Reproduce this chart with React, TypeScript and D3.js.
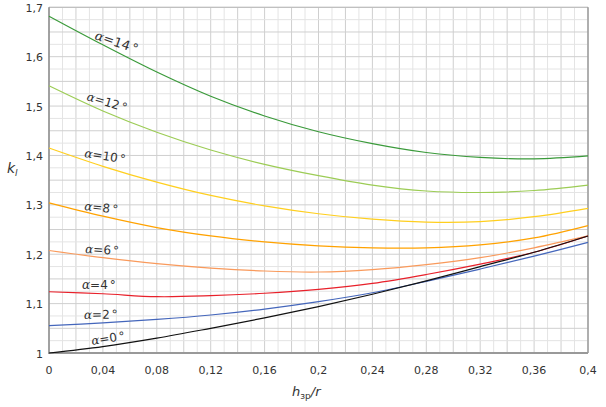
import React from "react";
import * as d3 from "d3";

const xValues = [0, 0.04, 0.08, 0.12, 0.16, 0.2, 0.24, 0.28, 0.32, 0.36, 0.4];
const a14 = [1.682, 1.624, 1.569, 1.52, 1.48, 1.448, 1.424, 1.406, 1.396, 1.393, 1.399];
const a12 = [1.541, 1.49, 1.447, 1.411, 1.382, 1.359, 1.34, 1.328, 1.325, 1.329, 1.34];
const a10 = [1.415, 1.378, 1.346, 1.319, 1.298, 1.282, 1.271, 1.265, 1.266, 1.276, 1.293];
const a8 = [1.304, 1.277, 1.254, 1.237, 1.225, 1.217, 1.213, 1.213, 1.219, 1.233, 1.258];
const a6 = [1.2075, 1.193, 1.181, 1.172, 1.166, 1.164, 1.169, 1.179, 1.193, 1.213, 1.237];
const a4 = [1.124, 1.12, 1.114, 1.116, 1.121, 1.129, 1.141, 1.159, 1.18, 1.204, 1.237];
const a2 = [1.0553, 1.061, 1.068, 1.077, 1.089, 1.104, 1.122, 1.145, 1.17, 1.196, 1.224];
const a0 = [1.0, 1.013, 1.03, 1.05, 1.071, 1.094, 1.119, 1.146, 1.175, 1.204, 1.237];

const seriesNames = ["α=14", "α=12", "α=10", "α=8", "α=6", "α=4", "α=2", "α=0"];
const seriesValues = [a14, a12, a10, a8, a6, a4, a2, a0];
const seriesColors = ["#3a9a3a", "#9ccc55", "#ffcf1f", "#ffa200", "#f99a5c", "#e8202a", "#4466bb", "#111111"];

const xTicks = [0, 0.04, 0.08, 0.12, 0.16, 0.2, 0.24, 0.28, 0.32, 0.36, 0.4];
const yTicks = [1, 1.1, 1.2, 1.3, 1.4, 1.5, 1.6, 1.7];

// label placement (anchor x, anchor y, rotation deg, font size)
const labelPos: [number, number, number, number][] = [
  [94, 39, 19, 13],
  [86, 100, 17, 12],
  [84, 157, 9, 12],
  [84, 210, 6, 12],
  [85, 253, 3, 12],
  [82, 289, 0, 12],
  [84, 319, -1, 12],
  [92, 345, -9, 12],
];

const W = 606;
const H = 407;
const left = 49;
const right = 588;
const top = 7.3;
const bottom = 353;

export default function App() {
  const x = d3.scaleLinear().domain([0, 0.4]).range([left, right]);
  const y = d3.scaleLinear().domain([1, 1.7]).range([bottom, top]);

  const fmt = (v: number) => {
    const s = String(+v.toFixed(3));
    return s.replace(".", ",");
  };

  const minorX = d3.range(0, 41).map((i) => i / 100);
  const minorY = d3.range(0, 29).map((i) => 1 + i * 0.025);

  const line = d3
    .line<[number, number]>()
    .x((d) => x(d[0]))
    .y((d) => y(d[1]))
    .curve(d3.curveCatmullRom.alpha(0.5));

  return (
    <svg
      width={W}
      height={H}
      style={{ position: "absolute", left: 0, top: 0, background: "#fff" }}
      fontFamily="DejaVu Sans, Verdana, sans-serif"
    >
      <rect x={0} y={0} width={W} height={H} fill="#fff" />
      {/* grid */}
      {minorX.map((v, i) => (
        <line
          key={"gx" + i}
          x1={x(v)}
          x2={x(v)}
          y1={top}
          y2={bottom}
          stroke={i % 2 === 0 ? "#cfcfcf" : "#e4e4e4"}
          strokeWidth={1}
        />
      ))}
      {minorY.map((v, i) => (
        <line
          key={"gy" + i}
          x1={left}
          x2={right}
          y1={y(v)}
          y2={y(v)}
          stroke={i % 2 === 0 ? "#cfcfcf" : "#e4e4e4"}
          strokeWidth={1}
        />
      ))}
      {/* frame */}
      <line x1={left} x2={right} y1={top} y2={top} stroke="#bbbbbb" strokeWidth={1} />
      <line x1={right} x2={right} y1={top} y2={bottom} stroke="#8a8a8a" strokeWidth={1.2} />
      <line x1={left} x2={left} y1={top} y2={bottom} stroke="#8a8a8a" strokeWidth={1.5} />
      <line x1={left - 1} x2={right} y1={bottom} y2={bottom} stroke="#999999" strokeWidth={2} />

      {/* curves */}
      {seriesValues.map((vals, si) => (
        <path
          key={"s" + si}
          d={line(vals.map((v, i) => [xValues[i], v] as [number, number])) || ""}
          fill="none"
          stroke={seriesColors[si]}
          strokeWidth={1.2}
        />
      ))}

      {/* curve labels */}
      {seriesNames.map((name, si) => {
        const [lx, ly, rot, fs] = labelPos[si];
        const num = name.split("=")[1];
        return (
          <text
            key={"l" + si}
            transform={`translate(${lx},${ly}) rotate(${rot})`}
            fontSize={fs}
            fill="#333"
          >
            <tspan fontStyle="italic" fontFamily="DejaVu Serif, serif">α</tspan>
            <tspan>={num}</tspan>
            <tspan dx={2}>°</tspan>
          </text>
        );
      })}

      {/* y tick labels */}
      {yTicks.map((v) => (
        <text
          key={"yt" + v}
          x={43}
          y={y(v) + 4.5}
          fontSize={11}
          fill="#333"
          textAnchor="end"
        >
          {fmt(v)}
        </text>
      ))}
      {/* x tick labels */}
      {xTicks.map((v) => (
        <text
          key={"xt" + v}
          x={x(v)}
          y={374}
          fontSize={11}
          fill="#333"
          textAnchor="middle"
        >
          {fmt(v)}
        </text>
      ))}

      {/* axis titles */}
      <text x={7} y={173} fontSize={14} fill="#333" fontStyle="italic">
        k<tspan fontSize={9} dy={3}>l</tspan>
      </text>
      <text x={292} y={396} fontSize={13} fill="#333" fontStyle="italic">
        h<tspan fontSize={9} dy={3} fontStyle="normal">зр</tspan>
        <tspan dy={-3}>/r</tspan>
      </text>
    </svg>
  );
}
